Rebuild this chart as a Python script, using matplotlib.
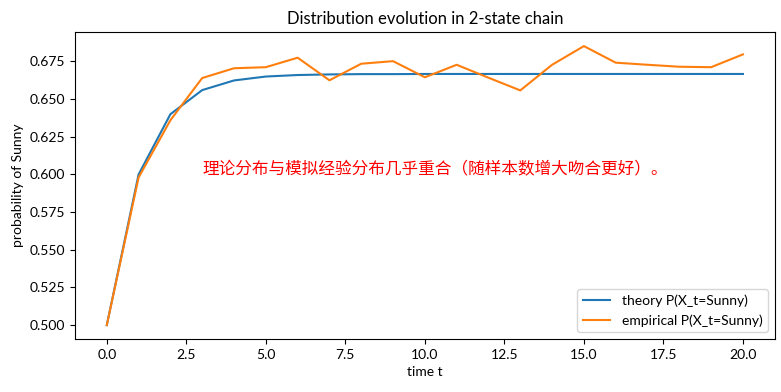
import matplotlib
matplotlib.use("Agg")
import matplotlib.pyplot as plt

plt.rcParams["font.family"] = ["Lato", "Noto Sans CJK SC", "DejaVu Sans"]

# time steps
t = [0, 1, 2, 3, 4, 5, 6, 7, 8, 9, 10, 11, 12, 13, 14, 15, 16, 17, 18, 19, 20]

# theoretical P(X_t = Sunny)
theory = [0.5, 0.6, 0.64, 0.656, 0.6624, 0.665, 0.666, 0.6664, 0.6666, 0.6666,
          0.6667, 0.6667, 0.6667, 0.6667, 0.6667, 0.6667, 0.6667, 0.6667,
          0.6667, 0.6667, 0.6667]

# empirical P(X_t = Sunny) from simulation
empirical = [0.5, 0.598, 0.636, 0.664, 0.6705, 0.6712, 0.6775, 0.6625, 0.6735,
             0.6752, 0.6645, 0.6728, 0.6642, 0.6558, 0.6728, 0.6852, 0.6742,
             0.6728, 0.6715, 0.6712, 0.6797]

fig = plt.figure(figsize=(7.81, 3.92), dpi=100)
ax = fig.add_axes([0.096, 0.135, 0.896, 0.783])

ax.plot(t, theory, color="#1f77b4", linewidth=1.5, label="theory P(X_t=Sunny)")
ax.plot(t, empirical, color="#ff7f0e", linewidth=1.5, label="empirical P(X_t=Sunny)")

ax.text(3, 0.6, "理论分布与模拟经验分布几乎重合（随样本数增大吻合更好）。",
        color="red", fontsize=12, ha="left")

ax.set_title("Distribution evolution in 2-state chain", fontsize=12)
ax.set_xlabel("time t")
ax.set_ylabel("probability of Sunny")
ax.legend(loc="lower right")

fig.savefig("out.png", dpi=100)
